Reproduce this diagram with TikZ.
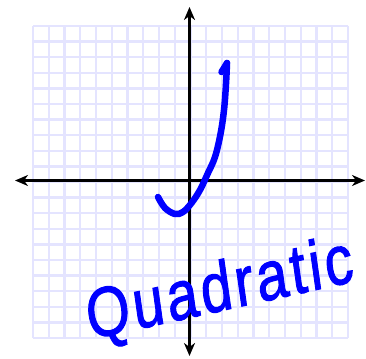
\documentclass[tikz,border=0pt]{standalone}
\usepackage{fontspec}
\setmainfont{Liberation Sans}
\newfontfamily\handfont[FakeBold=1.6,LetterSpace=6]{Liberation Sans}
\usetikzlibrary{arrows.meta}
\definecolor{gridc}{RGB}{228,228,255}
\definecolor{ink}{RGB}{0,0,255}
\tikzset{
  gridline/.style={draw=gridc, line width=2.4pt},
  axis/.style={draw=black, line width=3pt, -{Stealth[length=13pt,width=11pt,inset=4pt]}},
  pen/.style={draw=ink, line width=6.5pt, line cap=round, line join=round},
}
\begin{document}
\begin{tikzpicture}[x=1pt,y=-1pt]
\useasboundingbox (0,0) rectangle (366,358);
\fill[white] (0,0) rectangle (366,358);
% grid
\foreach \i in {0,...,20} {
  \draw[gridline] ({33+15.75*\i},26) -- ({33+15.75*\i},338);
  \draw[gridline] (33,{26+15.6*\i}) -- (348,{26+15.6*\i});
}
% axes
\coordinate (xl) at (15,180.5);
\coordinate (xr) at (365,180.5);
\coordinate (yt) at (189.5,7);
\coordinate (yb) at (189.5,356);
\coordinate (o) at (189.5,180.5);
\draw[axis] (o) -- (xl);
\draw[axis] (o) -- (xr);
\draw[axis] (o) -- (yt);
\draw[axis] (o) -- (yb);
% curve
\draw[pen] plot[smooth, tension=0.6] coordinates {
  (158,197) (165,208) (175,214) (183,212) (191.5,203) (200,190) (208,173)
  (215,157) (220.5,134) (224,110) (226,84) (227,63) };
\draw[pen] (221.5,72) -- (227,63);
% label
\node[text=ink, font=\handfont\fontsize{56}{56}\selectfont, yscale=1.25, rotate=10, inner sep=0pt] (lbl) at (220,292) {Quadratic};
\end{tikzpicture}
\end{document}
